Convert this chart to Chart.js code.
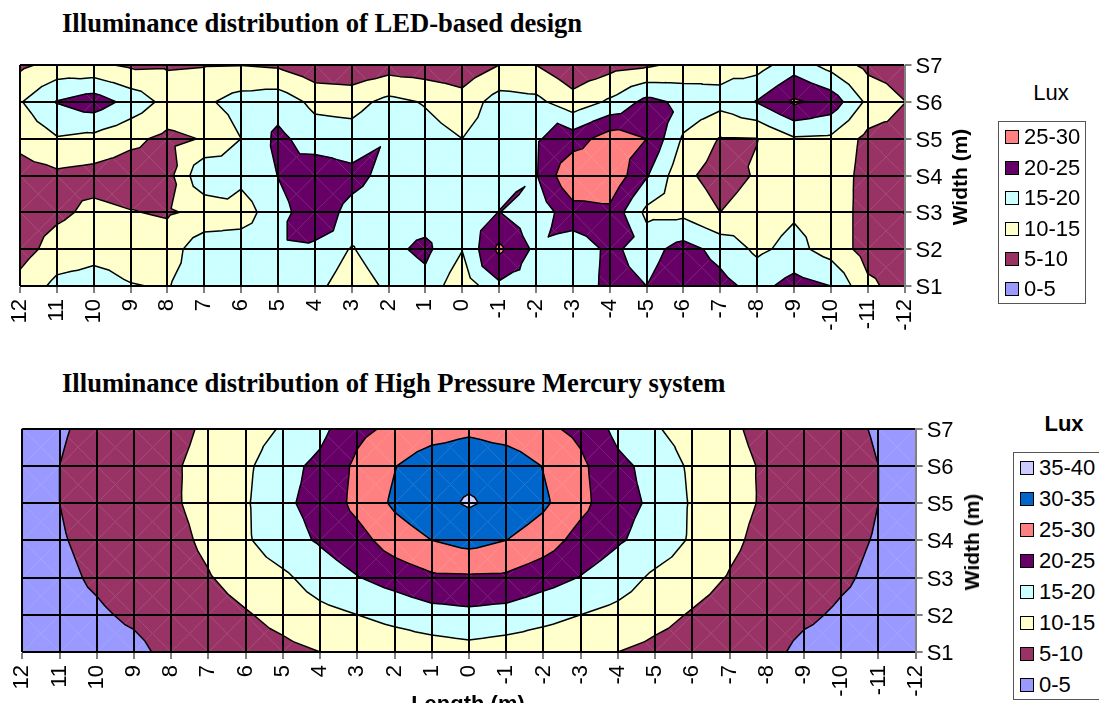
<!DOCTYPE html>
<html>
<head>
<meta charset="utf-8">
<title>Illuminance distribution</title>
<script src="https://cdn.jsdelivr.net/npm/chart.js@4/dist/chart.umd.js"></script>
<style>
  html, body { margin: 0; padding: 0; background: #fff; width: 1099px; height: 703px; overflow: hidden; }
  body { position: relative; font-family: "Liberation Sans", Arial, sans-serif; color: #000; }
  canvas { position: absolute; left: 0; }
  .title { position: absolute; left: 62px; font: bold 26.6px "Liberation Serif", serif; white-space: nowrap; line-height: 30px; }
  .axisTitle { position: absolute; font-weight: bold; font-size: 21px; line-height: 24px; white-space: nowrap; transform: translate(-50%, -50%) rotate(-90deg); }
  .lux { position: absolute; font-size: 22px; line-height: 24px; transform: translate(-50%, -50%); }
  .legendBox { position: absolute; border: 1.5px solid #555; background: #fff; box-sizing: border-box; }
  .swatch { position: absolute; width: 14px; height: 14px; border: 1.5px solid #000; box-sizing: border-box; }
  .legendText { position: absolute; font-size: 22px; line-height: 24px; white-space: nowrap; }
</style>
</head>
<body>
<div class="title" style="top:8px">Illuminance distribution of LED-based design</div>
<div class="title" style="top:368px">Illuminance distribution of High Pressure Mercury system</div>
<canvas id="ledChart"></canvas>
<canvas id="hpmChart"></canvas>
<div class="axisTitle" style="left:960px;top:177px">Width (m)</div>
<div class="axisTitle" style="left:972px;top:542px">Width (m)</div>
<div class="axisTitle" style="left:468px;top:704px;font-size:22px;transform:translate(-50%,-50%)">Length (m)</div>
<div class="lux" style="left:1051px;top:93px">Lux</div>
<div class="lux" style="left:1064px;top:424px;font-weight:bold">Lux</div>
<div id="ledLegend"></div>
<div id="hpmLegend"></div>

<script>
// axis labels
const lengthLabels = ['12','11','10','9','8','7','6','5','4','3','2','1','0','-1','-2','-3','-4','-5','-6','-7','-8','-9','-10','-11','-12'];
const widthLabels = ['S7','S6','S5','S4','S3','S2','S1'];

// lux bands, low to high
const bandNames = ['0-5','5-10','10-15','15-20','20-25','25-30','30-35','35-40'];
const bandColors = ['#9999FF','#993366','#FFFFCC','#CCFFFF','#660066','#FF8080','#0066CC','#CCCCFF'];
const bandLevels = [0,5,10,15,20,25,30,35,40];

// LED design, one row per width station
const ledS7 = [9,11.6,11,9.2,9.4,9.75,9.9,9.3,6.6,6.1,7.6,7,6.7,10,10,6.3,8.2,9.3,11.2,13,13,17.8,13.2,8.6,7.5];
const ledS6 = [14.6,20.3,22.7,18.3,13.35,14.1,17.1,18,13.7,13.2,16.4,14.6,12,17.2,16.3,11.9,15.8,21.5,18.8,16.7,20.3,25.8,23.1,13.9,10.1];
const ledS5 = [11.5,14.6,13.6,11.1,8.85,10.3,15,21.2,17.6,17.1,19.6,17,15,18,19.5,22.5,27.5,25,14.3,9.7,9.9,14.5,14.1,8.6,8];
const ledS4 = [7.8,9,8.3,7.5,8.1,19.4,16.6,20.1,23.2,21.4,18.6,17.5,17,18,19.7,29.5,29,20.5,11.2,7.8,10.5,13,13.3,8,7.5];
const ledS3 = [7.5,9,11.1,10.2,9.5,11,12.3,18.5,22.5,18.7,17.5,17.5,17,20.1,17,22.9,23.8,13.8,13.7,10,12.5,14.4,13,8,4.9];
const ledS2 = [8,12,13.4,13,12.4,18.5,18.3,18.5,19.25,14.6,18.7,21.2,15.2,26,18.8,17,21,18.1,21.9,18.4,14,16.5,13,8,7.5];
const ledS1 = [11.6,16.3,17,15.2,14.7,18,18.5,18,16.5,12,16,18.3,11.5,19,17.5,17,21.3,20,23.5,21.5,18.4,21.9,20,11,8];

// cell centres that do not sit at the mean of their corners: [row, column, lux]
const ledCentres = [[4,7,21.5],[4,8,20],[2,9,20.5],[3,13,20.2],[4,12,20],[5,12,19.5],[4,14,20.6],[4,16,20.9],[1,17,21],[1,14,19.5],[3,5,16]];

// high pressure mercury system
const hpmS7 = [3,4.6,6,7.2,8.2,11,12.6,15.5,18.6,23.8,26,27.6,29,27.6,26,23.8,18.6,15.5,12.6,11,8.2,7.2,6,4.6,3];
const hpmS6 = [3.5,5,6.5,8,9.3,11.7,14,18.4,21.2,26,29.8,33,33.5,33,29.8,26,21.2,18.4,14,11.7,9.3,8,6.5,5,3.5];
const hpmS5 = [3.5,5,6.5,8,9.4,11.5,14.4,19.3,21.3,26.5,30.8,33.5,35.5,33.5,30.8,26.5,21.3,19.3,14.4,11.5,9.4,8,6.5,5,3.5];
const hpmS4 = [3.5,4.7,6,7.5,8.5,11,14.3,18.2,20.5,23.1,27.5,30,31.7,30,27.5,23.1,20.5,18.2,14.3,11,8.5,7.5,6,4.7,3.5];
const hpmS3 = [3,4.2,5.5,6.8,7.8,9.7,12,14,17.5,19.8,22,24.2,24.4,24.2,22,19.8,17.5,14,12,9.7,7.8,6.8,5.5,4.2,3];
const hpmS2 = [3,3.8,4.5,5.6,6.8,8,9.6,11.5,13.5,15,16.5,18.1,18.8,18.1,16.5,15,13.5,11.5,9.6,8,6.8,5.6,4.5,3.8,3];
const hpmS1 = [2.5,3,3.5,4.1,6,7,7.8,8.8,10,11,11.8,12.4,13.2,12.4,11.8,11,10,8.8,7.8,7,6,4.1,3.5,3,2.5];

// keep the part of a triangle on one side of a level
function clipLevel(poly, level, keepAbove) {
  const out = [];
  for (let i = 0; i < poly.length; i++) {
    const a = poly[i], b = poly[(i + 1) % poly.length];
    const aIn = (a.v >= level) === keepAbove, bIn = (b.v >= level) === keepAbove;
    if (aIn) out.push(a);
    if (aIn !== bIn) {
      const t = (level - a.v) / (b.v - a.v);
      out.push({ x: a.x + (b.x - a.x) * t, y: a.y + (b.y - a.y) * t, v: level });
    }
  }
  return out;
}

// each grid cell is split in four triangles round its centre, like the Excel surface chart
const contourPlugin = {
  id: 'contour',
  beforeDatasetsDraw(chart, args, opts) {
    const { ctx, scales: { x, y } } = chart;
    const rows = opts.rows;
    const triangles = [];
    for (let r = 0; r < rows.length - 1; r++) {
      for (let c = 0; c < rows[r].length - 1; c++) {
        const p = (i, j) => ({ x: x.getPixelForValue(j), y: y.getPixelForValue(i), v: rows[i][j] });
        const tl = p(r, c), tr = p(r, c + 1), br = p(r + 1, c + 1), bl = p(r + 1, c);
        const fix = opts.centres.find(f => f[0] === r && f[1] === c);
        const mid = { x: (tl.x + tr.x) / 2, y: (tl.y + bl.y) / 2, v: fix ? fix[2] : (tl.v + tr.v + br.v + bl.v) / 4 };
        triangles.push([tl, tr, mid], [tr, br, mid], [br, bl, mid], [bl, tl, mid]);
      }
    }
    ctx.save();
    bandColors.forEach((color, b) => {
      ctx.fillStyle = color;
      ctx.strokeStyle = color;
      ctx.lineWidth = 0.35; // closes most of the seam between triangles
      triangles.forEach(tri => {
        const part = clipLevel(clipLevel(tri, bandLevels[b], true), bandLevels[b + 1], false);
        if (part.length < 3) return;
        ctx.beginPath();
        part.forEach((pt, i) => i ? ctx.lineTo(pt.x, pt.y) : ctx.moveTo(pt.x, pt.y));
        ctx.closePath();
        ctx.fill();
        ctx.stroke();
      });
    });
    // band outlines
    ctx.strokeStyle = '#000';
    ctx.lineWidth = 1.5;
    ctx.lineJoin = 'round';
    ctx.lineCap = 'round';
    ctx.beginPath();
    bandLevels.slice(1, -1).forEach(level => {
      triangles.forEach(tri => {
        const cross = [];
        tri.forEach((a, i) => {
          const b = tri[(i + 1) % 3];
          if ((a.v >= level) !== (b.v >= level)) {
            const t = (level - a.v) / (b.v - a.v);
            cross.push([a.x + (b.x - a.x) * t, a.y + (b.y - a.y) * t]);
          }
        });
        if (cross.length === 2) {
          ctx.moveTo(cross[0][0], cross[0][1]);
          ctx.lineTo(cross[1][0], cross[1][1]);
        }
      });
    });
    ctx.stroke();
    ctx.restore();
  }
};

function renderContour(id, rows, centres, box) {
  const canvas = document.getElementById(id);
  canvas.style.top = box.top + 'px';
  canvas.width = 1000;
  canvas.height = box.height;
  const grey = '#808080';
  new Chart(canvas.getContext('2d'), {
    type: 'line',
    data: { labels: lengthLabels, datasets: [] },
    plugins: [contourPlugin],
    options: {
      responsive: false,
      animation: false,
      devicePixelRatio: 1,
      layout: { padding: { left: box.left, top: box.padTop, right: 0, bottom: 0 } },
      plugins: { legend: { display: false }, tooltip: { enabled: false }, contour: { rows, centres } },
      scales: {
        x: {
          type: 'category',
          labels: lengthLabels,
          afterFit: s => { s.height = box.xHeight; },
          grid: { z: 1, color: ctx => ctx.index === 24 ? grey : '#000', lineWidth: 2, tickColor: grey, tickLength: 7 },
          border: { color: grey, z: 1 },
          ticks: { autoSkip: false, minRotation: 90, maxRotation: 90, color: '#000', font: { family: 'Liberation Sans', size: 22 }, padding: 6 }
        },
        y: {
          type: 'category',
          labels: widthLabels,
          position: 'right',
          afterFit: s => { s.width = box.yWidth; },
          grid: { z: 1, color: '#000', lineWidth: 2, tickColor: grey, tickLength: 7 },
          border: { color: grey, z: 1 },
          ticks: { autoSkip: false, color: '#000', font: { family: 'Liberation Sans', size: 22 }, padding: 4, labelOffset: 2 }
        }
      }
    }
  });
}

function renderLegend(id, names, box) {
  const host = document.getElementById(id);
  const frame = document.createElement('div');
  frame.className = 'legendBox';
  frame.style.cssText = `left:${box.left}px;top:${box.top}px;width:${box.width}px;height:${box.height}px`;
  host.appendChild(frame);
  // top entry is the highest band
  names.slice().reverse().forEach((name, i) => {
    const cy = box.firstY + i * box.step;
    const sw = document.createElement('div');
    sw.className = 'swatch';
    sw.style.cssText = `left:${box.swatchX}px;top:${cy - 7}px;background:${bandColors[bandNames.indexOf(name)]}`;
    host.appendChild(sw);
    const tx = document.createElement('div');
    tx.className = 'legendText';
    tx.textContent = name;
    tx.style.cssText = `left:${box.swatchX + 19}px;top:${cy - 12}px`;
    host.appendChild(tx);
  });
}

renderContour('ledChart', [ledS7, ledS6, ledS5, ledS4, ledS3, ledS2, ledS1], ledCentres,
  { top: 20, height: 310, left: 20, padTop: 45, xHeight: 44, yWidth: 95.5 });
renderContour('hpmChart', [hpmS7, hpmS6, hpmS5, hpmS4, hpmS3, hpmS2, hpmS1], [],
  { top: 385, height: 318, left: 22.3, padTop: 43.7, xHeight: 51, yWidth: 84.3 });

renderLegend('ledLegend', bandNames.slice(0, 6), { left: 998, top: 121, width: 88, height: 183, swatchX: 1005, firstY: 137.3, step: 30.4 });
renderLegend('hpmLegend', bandNames, { left: 1013, top: 452, width: 90, height: 248, swatchX: 1020, firstY: 468.3, step: 31 });
</script>
</body>
</html>
